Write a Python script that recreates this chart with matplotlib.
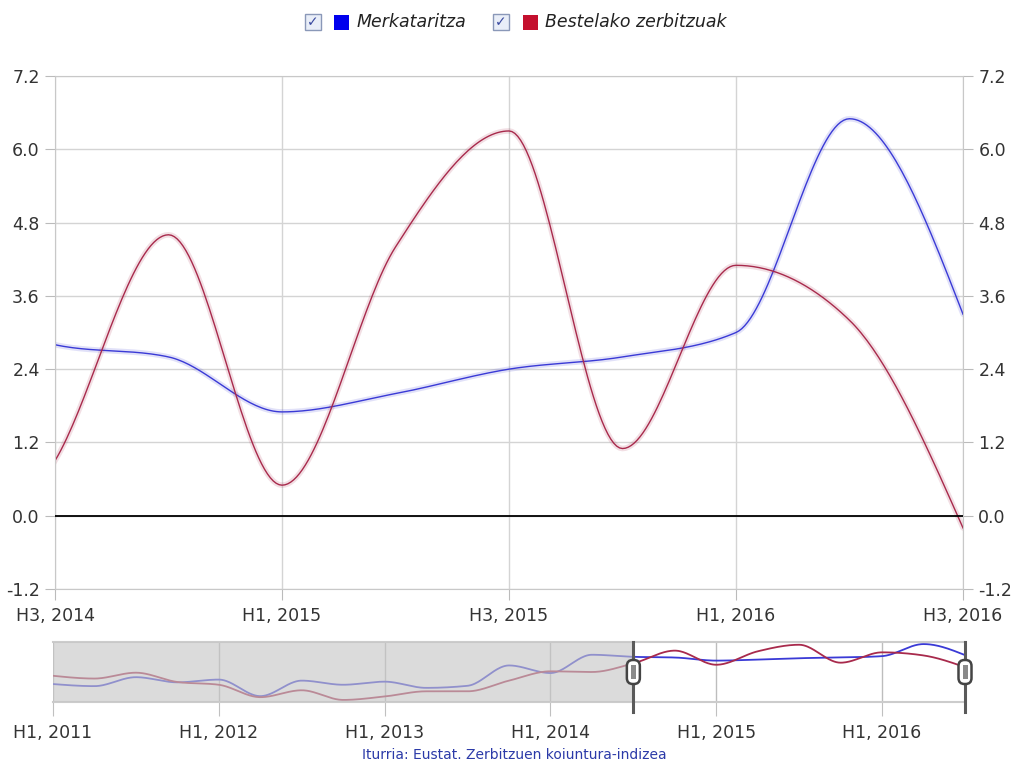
import numpy as np
import matplotlib.pyplot as plt
from matplotlib.patches import Rectangle, FancyBboxPatch
from matplotlib.transforms import IdentityTransform

W, H = 1013, 763

quarters = ['H1', 'H2', 'H3', 'H4']
periods = [f'{q}, {y}' for y in range(2011, 2017) for q in quarters][:23]

merkataritza = [-5.1, -5.7, -3.1, -4.6, -3.8, -8.6, -4.1, -5.3, -4.4, -6.2, -5.6, 0.3,
                -1.9, 3.4, 2.8, 2.6, 1.7, 2.0, 2.4, 2.6, 3.0, 6.5, 3.3]
bestelako = [-2.7, -3.5, -1.8, -4.5, -5.3, -8.9, -6.9, -9.7, -8.7, -7.2, -7.2, -4.1,
             -1.4, -1.6, 0.9, 4.6, 0.5, 4.4, 6.3, 1.1, 4.1, 3.2, -0.2]

series_names = ['Merkataritza', 'Bestelako zerbitzuak']
line_colors = ['#3a3ad6', '#a82a4c']
swatch_colors = ['#0000ee', '#c4102e']

sel_start = periods.index('H3, 2014')
sel_end = len(periods) - 1
y_ticks = np.round(np.arange(-1.2, 7.3, 1.2), 1)


def smooth(vals, n=40):
    # monotone cubic (steffen) through the points
    y = np.asarray(vals, float)
    s = np.diff(y)
    m = np.zeros_like(y)
    for i in range(1, len(y) - 1):
        p = (s[i - 1] + s[i]) / 2
        m[i] = (np.sign(s[i - 1]) + np.sign(s[i])) * min(abs(s[i - 1]), abs(s[i]), 0.5 * abs(p))
    m[0] = (3 * s[0] - m[1]) / 2
    m[-1] = (3 * s[-1] - m[-2]) / 2
    xs, ys = [], []
    for i in range(len(y) - 1):
        t = np.linspace(0, 1, n)
        h00 = 2 * t**3 - 3 * t**2 + 1
        h10 = t**3 - 2 * t**2 + t
        h01 = -2 * t**3 + 3 * t**2
        h11 = t**3 - t**2
        xs.append(i + t)
        ys.append(h00 * y[i] + h10 * m[i] + h01 * y[i + 1] + h11 * m[i + 1])
    return np.concatenate(xs), np.concatenate(ys)


fig = plt.figure(figsize=(W / 100, H / 100), dpi=100)

def fx(x):
    return x / W

def fy(y):
    return 1 - y / H

# ---- main chart
ax = fig.add_axes([fx(55), fy(589), fx(963) - fx(55), fy(76) - fy(589)])
for vals, c in zip([merkataritza, bestelako], line_colors):
    xs, ys = smooth(vals)
    ax.plot(xs, ys, color=c, lw=4, alpha=0.15, solid_capstyle='round')
    ax.plot(xs, ys, color=c, lw=1.0)
ax.axhline(0, color='black', lw=1.3, zorder=3)
ax.set_xlim(sel_start, sel_end)
ax.set_ylim(-1.2, 7.2)
ax.set_yticks(y_ticks)
ax.set_yticklabels([f'{v:.1f}' for v in y_ticks])
main_idx = list(range(sel_start, sel_end + 1, 2))
ax.set_xticks(main_idx)
ax.set_xticklabels([periods[i] for i in main_idx])
ax.grid(True, color='#d4d4d4', lw=1)
ax.set_axisbelow(True)
for s in ax.spines.values():
    s.set_color('#c8c8c8')
ax.tick_params(axis='y', which='both', left=True, right=True, labelleft=True, labelright=True,
               length=7, color='#bbbbbb', labelsize=12.5, labelcolor='#333333', pad=4)
ax.tick_params(axis='x', length=8, color='#bbbbbb', labelsize=12.5, labelcolor='#333333', pad=5)

# ---- navigator
nav = fig.add_axes([fx(53), fy(702), fx(965) - fx(53), fy(642) - fy(702)])
for vals, c in zip([merkataritza, bestelako], line_colors):
    xs, ys = smooth(vals)
    nav.plot(xs, ys, color=c, lw=1.3, zorder=2)
nav.axvspan(0, sel_start, color='#c6c6c6', alpha=0.62, lw=0, zorder=3)
nav.set_xlim(0, sel_end)
nav.set_ylim(-10.3, 7.1)
nav.set_yticks([])
nav_idx = [i for i, p in enumerate(periods) if p.startswith('H1')]
nav.set_xticks(nav_idx)
nav.set_xticklabels([periods[i] for i in nav_idx])
nav.grid(True, axis='x', color='#bdbdbd', lw=1)
nav.set_axisbelow(True)
nav.tick_params(axis='x', length=10, color='#c0c0c0', labelsize=12.5, labelcolor='#333333', pad=6)
for k, s in nav.spines.items():
    s.set_color('#cccccc')
    s.set_linewidth(1.5)
nav.spines['left'].set_visible(False)
nav.spines['right'].set_visible(False)

# selection handles
for xi in [sel_start, sel_end]:
    nav.plot([xi, xi], [1.0, -0.17], color='#5a5a5a', lw=2.2, transform=nav.get_xaxis_transform(),
             clip_on=False, zorder=5)
    px, _ = nav.transData.transform((xi, 0))
    _, py = nav.transAxes.transform((0, 0.5))
    fig.patches.append(FancyBboxPatch((px - 6.5, py - 12), 13, 24,
                                      boxstyle='round,pad=0,rounding_size=6',
                                      fc='white', ec='#444444', lw=1.8,
                                      transform=IdentityTransform(), zorder=6))
    fig.patches.append(Rectangle((px - 2.5, py - 7), 5, 14, fc='#8a8a8a', ec='none',
                                 transform=IdentityTransform(), zorder=7))

# ---- legend
legend_x = [(305, 334, 357), (493, 523, 545)]
for (cb, sw, tx), name, sc in zip(legend_x, series_names, swatch_colors):
    fig.patches.append(Rectangle((fx(cb), fy(30)), fx(16), fy(14) - fy(30), transform=fig.transFigure,
                                 fc='#e9eef8', ec='#8a98b8', lw=1))
    fig.text(fx(cb + 8), fy(22), '\u2713', ha='center', va='center', fontsize=10,
             color='#3a4aa0', fontweight='bold')
    fig.patches.append(Rectangle((fx(sw), fy(30)), fx(15), fy(15) - fy(30), transform=fig.transFigure,
                                 fc=sc, ec='none'))
    fig.text(fx(tx), fy(22), name, ha='left', va='center', fontsize=12.5, style='italic',
             color='#222222')

fig.text(fx(514), fy(755), 'Iturria: Eustat. Zerbitzuen koiuntura-indizea', ha='center',
         va='center', fontsize=10, color='#2b3aa8')

fig.savefig('out.png', dpi=100)
